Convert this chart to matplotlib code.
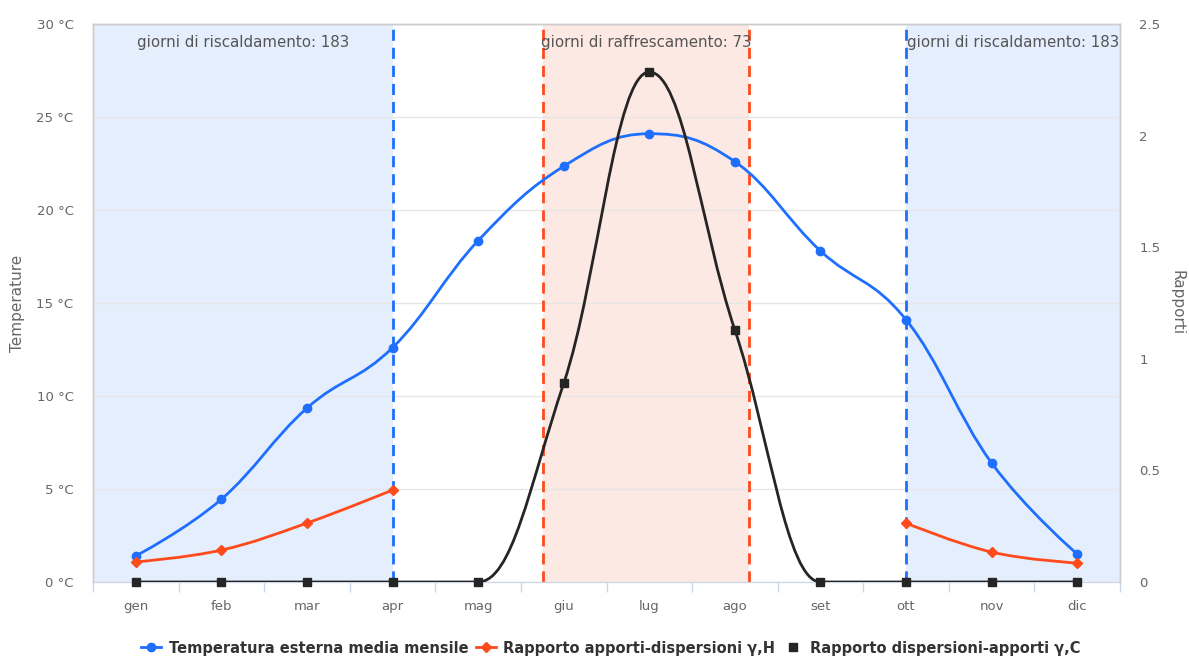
import numpy as np
import matplotlib
matplotlib.use("Agg")
import matplotlib.pyplot as plt
from matplotlib.path import Path
from matplotlib.patches import PathPatch
from matplotlib.lines import Line2D

# dati
mesi = ["gen", "feb", "mar", "apr", "mag", "giu", "lug", "ago", "set", "ott", "nov", "dic"]
temperatura = [1.4, 4.45, 9.35, 12.6, 18.35, 22.35, 24.1, 22.6, 17.8, 14.1, 6.4, 1.5]
gamma_h = [0.09, 0.143, 0.264, 0.412, None, None, None, None, None, 0.264, 0.134, 0.085]
gamma_c = [0, 0, 0, 0, 0, 0.89, 2.285, 1.129, 0, 0, 0, 0]

# limiti delle stagioni (in posizione di categoria)
fine_risc = 3.0
inizio_risc = 9.0
inizio_raff = 4.757
fine_raff = 7.163
giorni_risc = 183
giorni_raff = 73

BLU = "#1f6fff"
ROSSO = "#ff4a1c"
NERO = "#252525"


def spline_path(xs, ys, smoothing=1.5):
    """
    Curva tipo spline di Highcharts (bezier cubiche), spezzata sui valori nulli.
    """
    verts, codes = [], []
    segs, cur = [], []
    for x, y in zip(xs, ys):
        if y is None:
            if cur:
                segs.append(cur)
            cur = []
        else:
            cur.append((x, y))
    if cur:
        segs.append(cur)
    for seg in segs:
        n = len(seg)
        rc = [None] * n
        for i, (x, y) in enumerate(seg):
            if i == 0:
                verts.append((x, y))
                codes.append(Path.MOVETO)
                rc[0] = (x, y)
                continue
            lc = (x, y)
            rc[i] = (x, y)
            if i < n - 1:
                lx, ly = seg[i - 1]
                nx, ny = seg[i + 1]
                d = smoothing + 1
                lcx = (smoothing * x + lx) / d
                lcy = (smoothing * y + ly) / d
                rcx = (smoothing * x + nx) / d
                rcy = (smoothing * y + ny) / d
                if rcx != lcx:
                    corr = (rcy - lcy) * (rcx - x) / (rcx - lcx) + y - rcy
                    lcy += corr
                    rcy += corr
                    if lcy > ly and lcy > y:
                        lcy = max(ly, y)
                        rcy = 2 * y - lcy
                    elif lcy < ly and lcy < y:
                        lcy = min(ly, y)
                        rcy = 2 * y - lcy
                    if rcy > ny and rcy > y:
                        rcy = max(ny, y)
                        lcy = 2 * y - rcy
                    elif rcy < ny and rcy < y:
                        rcy = min(ny, y)
                        lcy = 2 * y - rcy
                lc = (lcx, lcy)
                rc[i] = (rcx, rcy)
            verts += [rc[i - 1], lc, (x, y)]
            codes += [Path.CURVE4] * 3
    return Path(verts, codes)


x = np.arange(len(mesi))

fig = plt.figure(figsize=(11.89, 6.58), dpi=100)
ax = fig.add_axes([93 / 1189, 76 / 658, 1027 / 1189, 558 / 658])
ax2 = ax.twinx()

ax.set_xlim(-0.5, 11.5)
ax.set_ylim(0, 30)
ax2.set_ylim(0, 2.5)

# bande
ax.axvspan(-0.5, fine_risc, color="#e5eefd", lw=0, zorder=0)
ax.axvspan(inizio_risc, 11.5, color="#e5eefd", lw=0, zorder=0)
ax.axvspan(inizio_raff, fine_raff, color="#fde9e3", lw=0, zorder=0)

ax.set_yticks(np.arange(0, 31, 5))
ax.set_yticklabels([f"{v} °C" for v in range(0, 31, 5)])
ax.grid(axis="y", color="#e6e6e6", lw=1, zorder=0.5)
ax.set_axisbelow(True)

for xv in (fine_risc, inizio_risc):
    ax.axvline(xv, color=BLU, lw=2, ls=(0, (4, 2.5)), zorder=1)
for xv in (inizio_raff, fine_raff):
    ax.axvline(xv, color=ROSSO, lw=2, ls=(0, (4, 2.5)), zorder=1)

testo = dict(ha="center", va="center", fontsize=10.8, color="#555555")
ax.text((-0.5 + fine_risc) / 2, 29.0, f"giorni di riscaldamento: {giorni_risc}", **testo)
ax.text((inizio_raff + fine_raff) / 2, 29.0, f"giorni di raffrescamento: {giorni_raff}", **testo)
ax.text((inizio_risc + 11.5) / 2, 29.0, f"giorni di riscaldamento: {giorni_risc}", **testo)

# serie
ax.add_patch(PathPatch(spline_path(x, temperatura), fc="none", ec=BLU, lw=2, zorder=3))
ax.plot(x, temperatura, ls="none", marker="o", ms=6, color=BLU, zorder=4)

ax2.add_patch(PathPatch(spline_path(x, gamma_h), fc="none", ec=ROSSO, lw=2, zorder=3))
gh = [np.nan if v is None else v for v in gamma_h]
ax2.plot(x, gh, ls="none", marker="D", ms=5, color=ROSSO, zorder=4)

ax2.add_patch(PathPatch(spline_path(x, gamma_c), fc="none", ec=NERO, lw=2, zorder=3))
ax2.plot(x, gamma_c, ls="none", marker="s", ms=6, color=NERO, zorder=4, clip_on=False)

# assi
ax.set_xticks(x)
ax.set_xticklabels(mesi)
ax.set_xticks(np.arange(-0.5, 12, 1), minor=True)
ax.tick_params(axis="x", which="major", length=0, pad=13, labelsize=9.5, labelcolor="#666666")
ax.tick_params(axis="x", which="minor", length=7, width=1, color="#ccd6eb")
ax.tick_params(axis="y", length=0, pad=14, labelsize=9.5, labelcolor="#666666")
ax2.set_yticks([0, 0.5, 1, 1.5, 2, 2.5])
ax2.set_yticklabels(["0", "0.5", "1", "1.5", "2", "2.5"])
ax2.tick_params(axis="y", length=0, pad=14, labelsize=9.5, labelcolor="#666666")

ax.set_ylabel("Temperature", fontsize=11, color="#666666", labelpad=8)
ax2.set_ylabel("Rapporti", fontsize=11, color="#666666", rotation=270, labelpad=17)

for a in (ax, ax2):
    for s in ("top", "left", "right"):
        a.spines[s].set_color("#cccccc")
        a.spines[s].set_linewidth(1)
    a.spines["bottom"].set_color("#ccd6eb")

handles = [
    Line2D([], [], color=BLU, lw=2, marker="o", ms=6),
    Line2D([], [], color=ROSSO, lw=2, marker="D", ms=5),
    Line2D([], [], color=NERO, lw=0, marker="s", ms=6),
]
labels = [
    "Temperatura esterna media mensile",
    "Rapporto apporti-dispersioni γ,H",
    "Rapporto dispersioni-apporti γ,C",
]
leg = fig.legend(handles, labels, loc="center", bbox_to_anchor=(611 / 1189, 1 - 648 / 658),
                 ncol=3, frameon=False, handlelength=1.4, handletextpad=0.5, columnspacing=0.5,
                 prop={"size": 10.5, "weight": "bold"})
for t in leg.get_texts():
    t.set_color("#333333")

fig.savefig("out.png", dpi=100)
